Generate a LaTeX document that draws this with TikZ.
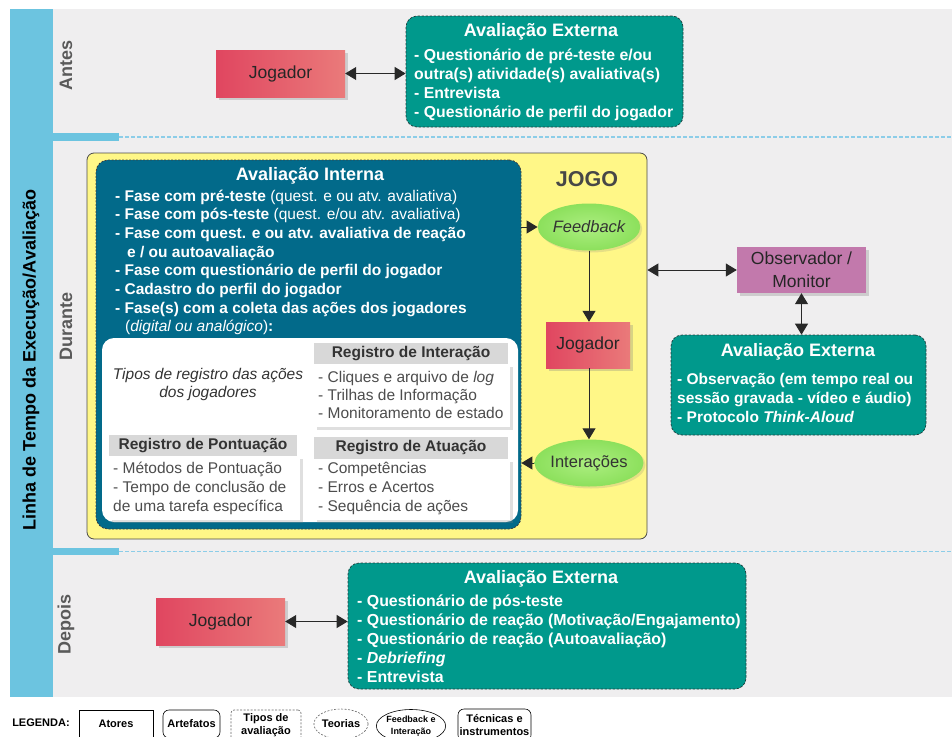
\documentclass[tikz,border=0pt]{standalone}
\usepackage{fontspec}
\setmainfont{Liberation Sans}
\usetikzlibrary{arrows.meta,shapes.geometric,shadows,calc}
\definecolor{bggray}{RGB}{239,238,239}
\definecolor{barblue}{RGB}{108,196,224}
\definecolor{dashblue}{RGB}{140,205,232}
\definecolor{aeteal}{RGB}{0,153,140}
\definecolor{aiblue}{RGB}{2,106,138}
\definecolor{jogoyel}{RGB}{255,247,135}
\definecolor{jogL}{RGB}{224,70,96}
\definecolor{jogR}{RGB}{234,122,122}
\definecolor{obspink}{RGB}{194,121,172}
\definecolor{fbgreen}{RGB}{140,224,92}
\definecolor{fbgreenL}{RGB}{172,238,128}
\definecolor{reghead}{RGB}{216,216,216}
\definecolor{regtext}{RGB}{77,77,77}
\definecolor{phasegray}{RGB}{90,90,90}
\definecolor{linegray}{RGB}{40,40,40}
\definecolor{borderdark}{RGB}{30,60,60}
\newcommand{\mklines}[6]{%
  \foreach \myline [count=\myi] in {#6}{%
    \node[#2] (#1-\myi) at (#3,{#4+#5*(\myi-1)}) {\myline};}}
\begin{document}
\begin{tikzpicture}[x=1pt,y=-1pt,
  >={Triangle[width=13pt,length=11pt]},
  conn/.style={draw=linegray, line width=1pt, fill=black},
  jog/.style={rectangle, left color=jogL, right color=jogR, draw=none, inner sep=0pt,
    font=\fontsize{17.5}{20}\selectfont, text=black!85,
    drop shadow={shadow xshift=3pt, shadow yshift=-3pt, opacity=0.3}},
  aebox/.style={rectangle, rounded corners=11pt, fill=aeteal, draw=borderdark,
    dash pattern=on 2.5pt off 1.5pt, line width=0.7pt, inner sep=0pt},
  aetitle/.style={font=\bfseries\fontsize{18}{20}\selectfont, text=white, inner sep=0pt, anchor=base},
  aeitem/.style={font=\bfseries\fontsize{15.8}{18}\selectfont, text=white, inner sep=0pt, anchor=base west},
  aeitemD/.style={font=\bfseries\fontsize{15.5}{18}\selectfont, text=white, inner sep=0pt, anchor=base west},
  aeitemP/.style={font=\bfseries\fontsize{15.9}{18}\selectfont, text=white, inner sep=0pt, anchor=base west},
  aiitem/.style={font=\fontsize{15.5}{18}\selectfont, text=white, inner sep=0pt, anchor=base west},
  phase/.style={rotate=90, font=\bfseries\fontsize{18}{20}\selectfont, text=phasegray},
  regbody/.style={rectangle, fill=white, inner sep=0pt,
    drop shadow={shadow xshift=2.5pt, shadow yshift=-2.5pt, opacity=0.25}},
  reghead/.style={rectangle, fill=reghead, inner sep=0pt,
    font=\bfseries\fontsize{15.5}{18}\selectfont, text=black!80},
  regitem/.style={font=\fontsize{15.5}{18}\selectfont, text=regtext, inner sep=0pt, anchor=base west},
  ell/.style={ellipse, inner color=fbgreenL, outer color=fbgreen, inner sep=0pt,
    font=\fontsize{16.5}{18}\selectfont, text=black!80,
    drop shadow={shadow xshift=2pt, shadow yshift=-2pt, opacity=0.2}},
  lg/.style={inner sep=0pt, font=\bfseries\fontsize{11}{13}\selectfont, line width=0.6pt},
  lgs/.style={inner sep=0pt, font=\bfseries\fontsize{9}{11.5}\selectfont, line width=0.6pt}
]
\useasboundingbox (0,0) rectangle (952,736);
% background
\fill[white] (0,0) rectangle (952,736);
\fill[bggray] (10,9) rectangle (952,697);
\fill[barblue] (10,9) rectangle (53,697);
\fill[barblue] (53,133) rectangle (119,141);
\draw[dashblue, line width=1.2pt, dash pattern=on 4pt off 2pt] (119,137) -- (952,137);
\fill[barblue] (53,548) rectangle (119,555);
\draw[dashblue, line width=1.2pt, dash pattern=on 4pt off 2pt] (119,551.5) -- (952,551.5);
% side labels
\node[rotate=90, font=\bfseries\fontsize{18}{20}\selectfont] (tl) at (31,360) {Linha de Tempo da Execução/Avaliação};
\node[phase] (pA) at (66,65) {Antes};
\node[phase] (pD) at (66,326) {Durante};
\node[phase] (pP) at (66,624) {Depois};
% ANTES
\node[jog, minimum width=129pt, minimum height=47pt] (jA) at (280.5,73.5) {Jogador};
\node[aebox, minimum width=277pt, minimum height=111pt] (aeA) at (544.5,71.5) {};
\node[aetitle] (aeAt) at (541,36) {Avaliação Externa};
\mklines{aeAi}{aeitem}{414}{60}{19}{{- Questionário de pré-teste e/ou},{outra(s) atividade(s) avaliativa(s)},{- Entrevista},{- Questionário de perfil do jogador}}
\draw[conn,<->] (jA.east) -- (jA.east -| aeA.west);
% DURANTE
\node[rectangle, rounded corners=7pt, fill=jogoyel, draw=black!70, line width=0.8pt,
  minimum width=560pt, minimum height=386pt, inner sep=0pt] (jogo) at (367,346) {};
\node[rectangle, rounded corners=12pt, fill=aiblue, draw=black!75, dash pattern=on 2pt off 1.5pt,
  line width=0.8pt, minimum width=425pt, minimum height=369pt, inner sep=0pt] (ai) at (308.5,344.5) {};
\node[rectangle, rounded corners=12pt, fill=white, minimum width=416pt, minimum height=184pt, inner sep=0pt] (wb) at (310,430) {};
\node[aetitle] (ait) at (310,180) {Avaliação Interna};
\mklines{aii}{aiitem}{115}{201}{18.7}{{\textbf{- Fase com pré-teste} (quest. e ou atv. avaliativa)},{\textbf{- Fase com pós-teste} (quest. e/ou atv. avaliativa)},{\textbf{- Fase com quest. e ou atv. avaliativa de reação}},{\hspace*{12pt}\textbf{e / ou autoavaliação}},{\textbf{- Fase com questionário de perfil do jogador}},{\textbf{- Cadastro do perfil do jogador}},{\textbf{- Fase(s) com a coleta das ações dos jogadores}},{\hspace*{10pt}(\textit{digital ou analógico})\textbf{:}}}
% registers
\node[font=\itshape\fontsize{15.5}{18}\selectfont, text=black!80, align=center, inner sep=0pt] (tipos) at (208,384) {Tipos de registro das ações\\dos jogadores};
\node[regbody, minimum width=196pt, minimum height=63pt] (intB) at (412,395.5) {};
\node[reghead, minimum width=194pt, minimum height=21pt] (intH) at (411,353.5) {Registro de Interação};
\mklines{inti}{regitem}{318}{382.5}{18}{{- Cliques e arquivo de \textit{log}},{- Trilhas de Informação},{- Monitoramento de estado}}
\node[regbody, minimum width=191pt, minimum height=64pt] (ponB) at (204.5,488) {};
\node[reghead, minimum width=188pt, minimum height=21pt] (ponH) at (203,445.5) {Registro de Pontuação};
\mklines{poni}{regitem}{113}{473.5}{19}{{- Métodos de Pontuação},{- Tempo de conclusão de},{de uma tarefa específica}}
\node[regbody, minimum width=196pt, minimum height=61pt] (atuB) at (412,489.5) {};
\node[reghead, minimum width=194pt, minimum height=22pt] (atuH) at (411,448) {Registro de Atuação};
\mklines{atui}{regitem}{318}{473.5}{19}{{- Competências},{- Erros e Acertos},{- Sequência de ações}}
% game loop
\node[font=\bfseries\fontsize{21.5}{24}\selectfont, text=black!72] (jl) at (587,179) {JOGO};
\node[ell, minimum width=92pt, minimum height=47pt] (fb) at (589,227) {\itshape Feedback};
\node[jog, minimum width=84pt, minimum height=46pt] (jM) at (588,345) {Jogador};
\node[ell, minimum width=92pt, minimum height=47pt] (int) at (589,463) {Interações};
\draw[conn,->] (fb.west -| ai.east) -- (fb.west);
\draw[conn,->] (fb.south) -- (jM.north -| fb.south);
\draw[conn,->] (jM.south -| fb.south) -- (int.north);
\draw[conn,->] (int.west) -- (int.west -| ai.east);
% observer
\node[rectangle, fill=obspink, inner sep=0pt, minimum width=129pt, minimum height=46pt, align=center,
  font=\fontsize{17.5}{23}\selectfont, text=black!85,
  drop shadow={shadow xshift=3pt, shadow yshift=-3pt, opacity=0.3}] (obs) at (801.5,270) {Observador /\\Monitor};
\node[aebox, minimum width=255pt, minimum height=100pt] (aeD) at (798.5,385) {};
\node[aetitle] (aeDt) at (798,356) {Avaliação Externa};
\mklines{aeDi}{aeitemD}{677}{384.5}{18.8}{{- Observação (em tempo real ou},{sessão gravada - vídeo e áudio)},{- Protocolo \textit{Think-Aloud}}}
\draw[conn,<->] (obs.west -| jogo.east) -- (obs.west);
\draw[conn,<->] (obs.south) -- (obs.south |- aeD.north);
% DEPOIS
\node[jog, minimum width=129pt, minimum height=47pt] (jP) at (220.5,621.5) {Jogador};
\node[aebox, minimum width=398pt, minimum height=126pt] (aeP) at (547,626) {};
\node[aetitle] (aePt) at (541,583) {Avaliação Externa};
\mklines{aePi}{aeitemP}{357}{606}{19}{{- Questionário de pós-teste},{- Questionário de reação (Motivação/Engajamento)},{- Questionário de reação (Autoavaliação)},{- \textit{Debriefing}},{- Entrevista}}
\draw[conn,<->] (jP.east) -- (jP.east -| aeP.west);
% legend
\node[lg] (leg) at (41,723) {LEGENDA:};
\node[lg, draw, minimum width=74pt, minimum height=28pt] (lA) at (116,724) {Atores};
\node[lg, draw, rounded corners=6pt, minimum width=57pt, minimum height=28pt] (lB) at (191.5,724) {Artefatos};
\node[lg, draw=black!60, dash pattern=on 2pt off 1.5pt, rounded corners=3pt, minimum width=70pt,
  minimum height=30pt, align=center] (lC) at (266,725) {Tipos de\\avaliação};
\node[lg, ellipse, draw=black!60, dash pattern=on 2pt off 1.5pt, minimum width=50pt, minimum height=30pt] (lD) at (341,724) {Teorias};
\node[lgs, ellipse, draw, minimum width=62pt, minimum height=33pt, align=center] (lE) at (411,726) {Feedback e\\Interação};
\node[lg, draw, rounded corners=6pt, minimum width=73pt, minimum height=32pt, align=center] (lF) at (494.5,725) {Técnicas e\\instrumentos};
\end{tikzpicture}
\end{document}
